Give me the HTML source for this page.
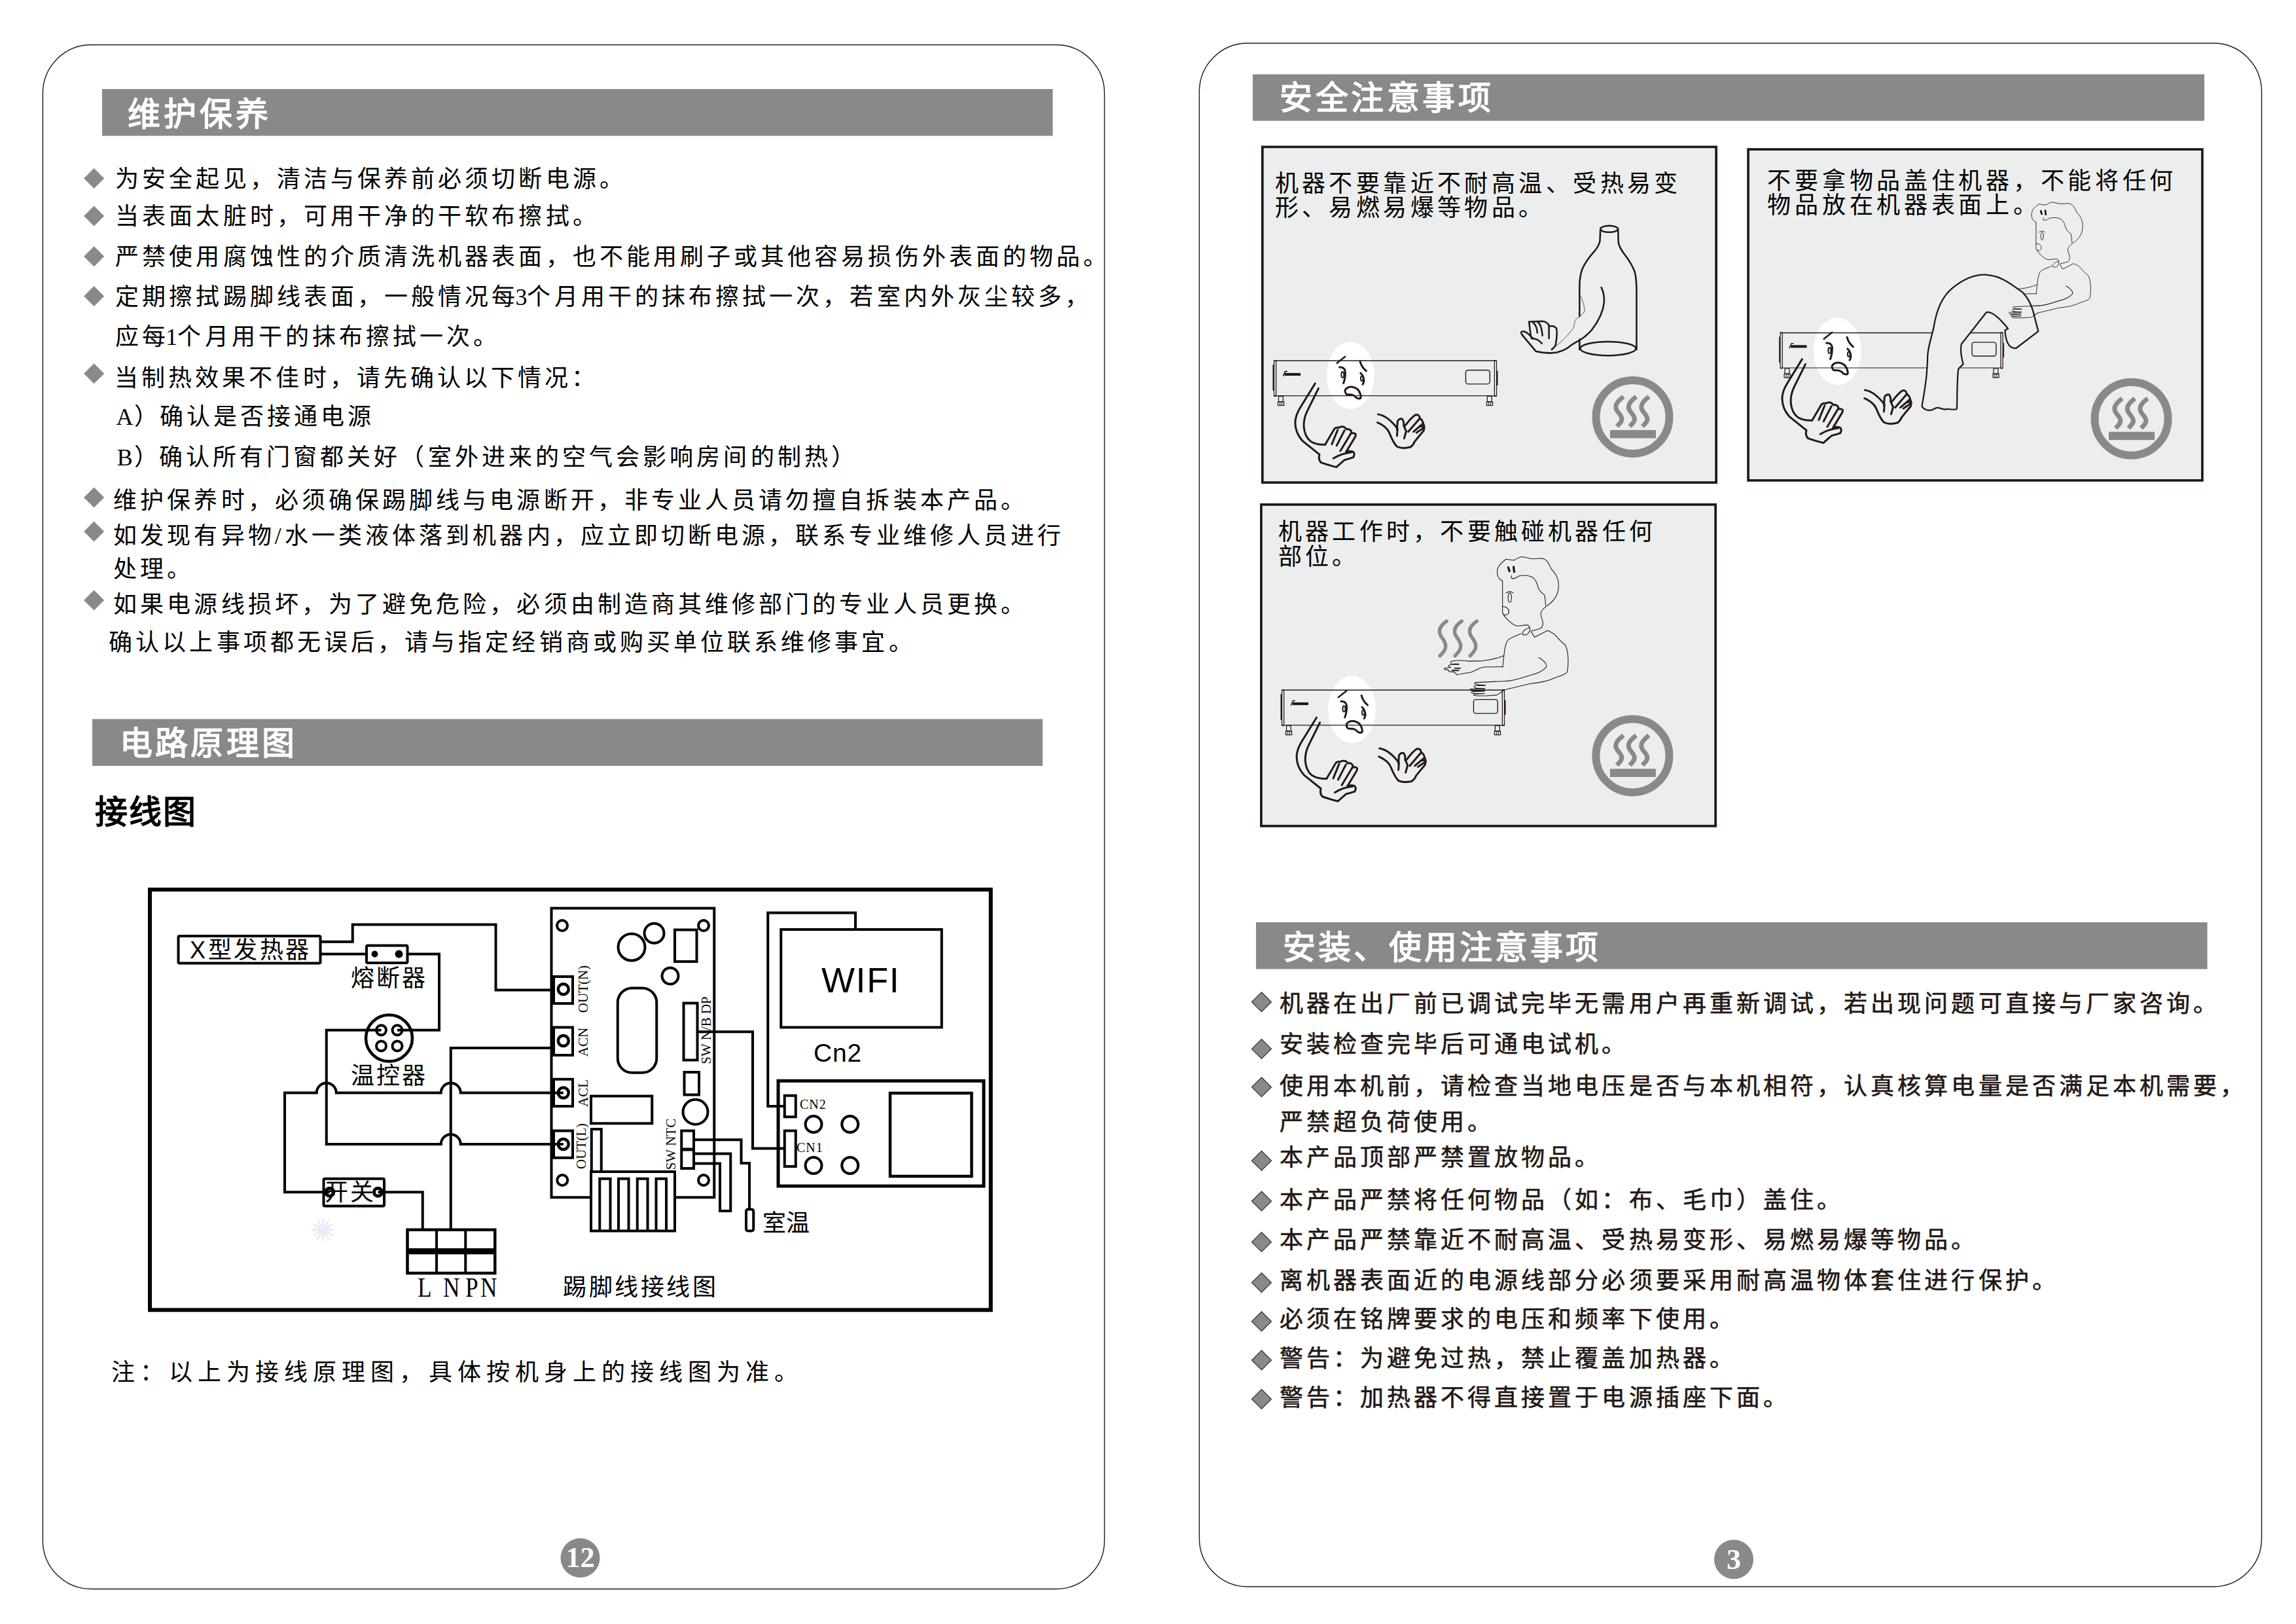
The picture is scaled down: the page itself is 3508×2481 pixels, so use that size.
<!DOCTYPE html>
<html lang="zh-CN"><head><meta charset="utf-8"><title>manual</title>
<style>
html,body{margin:0;padding:0;background:#fff;}
body{width:3508px;height:2481px;position:relative;overflow:hidden;}
.ser,.bd,.hd,.lat,.sans,.pn{position:absolute;white-space:nowrap;}
.ser{font-family:"Liberation Serif",serif;}
.bd{font-family:"Liberation Serif",serif;font-weight:normal;-webkit-text-stroke:0.6px #231815;}
.hd{font-family:"Liberation Sans",sans-serif;font-weight:bold;}
.lat{font-family:"Liberation Serif",serif;color:#000;}
.sans{font-family:"Liberation Sans",sans-serif;color:#000;}
.pn{font-family:"Liberation Serif",serif;font-weight:bold;color:#fff;text-align:center;}
</style></head><body>
<svg width="3508" height="2481" viewBox="0 0 3508 2481" style="position:absolute;left:0;top:0"><path d="M139.4,68.5 H1613.5 A74,74 0 0 1 1687.5,142.5 V2353.5 A74,74 0 0 1 1613.5,2427.5 H139.4 A74,74 0 0 1 65.4,2353.5 V142.5 A74,74 0 0 1 139.4,68.5 Z" fill="none" stroke="#231815" stroke-width="1.4"/><path d="M1906.4,66 H3381.5 A74,74 0 0 1 3455.5,140 V2350 A74,74 0 0 1 3381.5,2424 H1906.4 A74,74 0 0 1 1832.4,2350 V140 A74,74 0 0 1 1906.4,66 Z" fill="none" stroke="#231815" stroke-width="1.4"/><rect x="156" y="136" width="1452.5" height="71.5" fill="#898989"/><rect x="141" y="1098.5" width="1452" height="71.5" fill="#898989"/><rect x="1914" y="113.5" width="1454" height="71.1" fill="#898989"/><rect x="1919" y="1409" width="1453.5" height="71.5" fill="#898989"/><path d="M143.6,257.0 L159.1,272.5 L143.6,288.0 L128.1,272.5 Z" fill="#898989"/><path d="M143.6,314.5 L159.1,330 L143.6,345.5 L128.1,330 Z" fill="#898989"/><path d="M143.6,376.25 L159.1,391.75 L143.6,407.25 L128.1,391.75 Z" fill="#898989"/><path d="M143.6,437.0 L159.1,452.5 L143.6,468.0 L128.1,452.5 Z" fill="#898989"/><path d="M143.6,555.25 L159.1,570.75 L143.6,586.25 L128.1,570.75 Z" fill="#898989"/><path d="M143.6,744.5 L159.1,760 L143.6,775.5 L128.1,760 Z" fill="#898989"/><path d="M143.6,796.5 L159.1,812 L143.6,827.5 L128.1,812 Z" fill="#898989"/><path d="M143.6,901.5 L159.1,917 L143.6,932.5 L128.1,917 Z" fill="#898989"/><path d="M1927.5,1515.75 L1942.5,1530.75 L1927.5,1545.75 L1912.5,1530.75 Z" fill="#898989" stroke="#333" stroke-width="1.2"/><path d="M1927.5,1587.5 L1942.5,1602.5 L1927.5,1617.5 L1912.5,1602.5 Z" fill="#898989" stroke="#333" stroke-width="1.2"/><path d="M1927.5,1645.75 L1942.5,1660.75 L1927.5,1675.75 L1912.5,1660.75 Z" fill="#898989" stroke="#333" stroke-width="1.2"/><path d="M1927.5,1758.25 L1942.5,1773.25 L1927.5,1788.25 L1912.5,1773.25 Z" fill="#898989" stroke="#333" stroke-width="1.2"/><path d="M1927.5,1820.0 L1942.5,1835 L1927.5,1850.0 L1912.5,1835 Z" fill="#898989" stroke="#333" stroke-width="1.2"/><path d="M1927.5,1882.5 L1942.5,1897.5 L1927.5,1912.5 L1912.5,1897.5 Z" fill="#898989" stroke="#333" stroke-width="1.2"/><path d="M1927.5,1944.5 L1942.5,1959.5 L1927.5,1974.5 L1912.5,1959.5 Z" fill="#898989" stroke="#333" stroke-width="1.2"/><path d="M1927.5,2003.75 L1942.5,2018.75 L1927.5,2033.75 L1912.5,2018.75 Z" fill="#898989" stroke="#333" stroke-width="1.2"/><path d="M1927.5,2063.0 L1942.5,2078 L1927.5,2093.0 L1912.5,2078 Z" fill="#898989" stroke="#333" stroke-width="1.2"/><path d="M1927.5,2122.5 L1942.5,2137.5 L1927.5,2152.5 L1912.5,2137.5 Z" fill="#898989" stroke="#333" stroke-width="1.2"/><circle cx="886.5" cy="2380" r="30" fill="#898989"/><circle cx="2649" cy="2382.3" r="30" fill="#898989"/><g fill="none" stroke="#000" stroke-width="4" stroke-linejoin="miter"><rect x="229" y="1359" width="1284.75" height="642.25" stroke-width="6"/><rect x="272.5" y="1430" width="217" height="41.5" rx="2"/><polyline points="489.5,1438.75 538.75,1438.75 538.75,1412.5 757.5,1412.5 757.5,1512.5 846,1512.5"/><polyline points="489.5,1457.5 560,1457.5"/><rect x="560" y="1444.5" width="62.5" height="26.5" rx="2"/><circle cx="572.5" cy="1457.5" r="4" fill="#000" stroke-width="2"/><circle cx="609.5" cy="1457.5" r="5" fill="#000" stroke-width="2"/><polyline points="622.5,1457.5 671,1457.5 671,1573.75 607,1573.75"/><circle cx="594.5" cy="1586" r="35.5" stroke-width="4.5"/><circle cx="582.5" cy="1573.75" r="7.5"/><circle cx="607" cy="1573.75" r="7.5"/><circle cx="582.5" cy="1598" r="7.5"/><circle cx="607" cy="1598" r="7.5"/><path d="M582.5,1573.75 H498.75 V1748 H673.75 A15,15 0 0 1 703.75,1748 H860.75"/><path d="M860.75,1669.5 H703.75 A15,15 0 0 0 673.75,1669.5 H513.75 A15,15 0 0 0 483.75,1669.5 H435 V1821.25 H503.75"/><path d="M846,1601 H688.75 V1878.75"/><rect x="494.5" y="1800.75" width="92.5" height="41.75" rx="2"/><circle cx="503.75" cy="1821.25" r="6" stroke-width="5"/><circle cx="577.5" cy="1821.25" r="6" stroke-width="5"/><polyline points="577.5,1821.25 645.75,1821.25 645.75,1878.75"/><rect x="622.5" y="1878.75" width="133.75" height="66.25" stroke-width="4.5"/><line x1="667" y1="1878.75" x2="667" y2="1945"/><line x1="711.25" y1="1878.75" x2="711.25" y2="1945"/><rect x="622.5" y="1907" width="133.75" height="9.25" fill="#000" stroke="none"/><path d="M903,1829.25 H842.5 V1387.5 H1091.25 V1829.25 H1031.25"/><circle cx="859" cy="1414" r="8"/><circle cx="1075" cy="1414" r="8"/><circle cx="859.25" cy="1803" r="8"/><circle cx="1075" cy="1803" r="8"/><circle cx="965" cy="1447" r="20.5"/><circle cx="999.5" cy="1425.75" r="15"/><rect x="1031" y="1420.5" width="33.5" height="48.5"/><circle cx="1024" cy="1491" r="12.5"/><rect x="943.75" y="1509.5" width="59.5" height="129.25" rx="22"/><rect x="846" y="1492" width="29" height="41"/><circle cx="860.75" cy="1511.25" r="8" stroke-width="4.5"/><rect x="846" y="1569.5" width="29" height="42.5"/><circle cx="860.75" cy="1590" r="8" stroke-width="4.5"/><rect x="846" y="1648.75" width="29" height="41.25"/><circle cx="860.75" cy="1669.5" r="8" stroke-width="4.5"/><rect x="846" y="1727.5" width="29" height="41.25"/><circle cx="860.75" cy="1748" r="8" stroke-width="4.5"/><rect x="1044.5" y="1532.5" width="21" height="87"/><polyline points="1065.5,1576.25 1150,1576.25 1150,1754.5 1199,1754.5"/><rect x="1045.5" y="1638" width="22.5" height="34.5"/><circle cx="1062.5" cy="1698.75" r="19"/><rect x="903" y="1674.5" width="93.25" height="41.75"/><rect x="903.75" y="1725" width="15" height="65"/><rect x="903" y="1790" width="128" height="90.5"/><polyline points="916.25,1880.5 916.25,1800.75 932.5,1800.75 932.5,1880.5"/><polyline points="945,1880.5 945,1800.75 960.5,1800.75 960.5,1880.5"/><polyline points="973.75,1880.5 973.75,1800.75 989.5,1800.75 989.5,1880.5"/><polyline points="1002.5,1880.5 1002.5,1800.75 1018,1800.75 1018,1880.5"/><rect x="1041.25" y="1727.5" width="18.75" height="57.5"/><line x1="1041.25" y1="1756" x2="1060" y2="1756" stroke-width="5"/><polyline points="1060,1741.25 1132.5,1741.25 1132.5,1777 1145,1777 1145,1847.5"/><rect x="1140" y="1847.5" width="11.25" height="33" rx="3"/><polyline points="1060,1762.5 1116.25,1762.5 1116.25,1850 1100,1850 1100,1777.5 1060,1777.5"/><polyline points="1199,1690 1173.25,1690 1173.25,1394.5 1307,1394.5 1307,1420"/><rect x="1193.25" y="1420" width="245.5" height="149.5"/><rect x="1189" y="1651.25" width="314" height="160.75" stroke-width="5"/><rect x="1360" y="1670" width="124.5" height="127" stroke-width="4.5"/><rect x="1198.75" y="1673.75" width="17" height="32.5"/><rect x="1198.75" y="1727.5" width="17" height="54.5"/><circle cx="1243" cy="1717.5" r="12.5"/><circle cx="1298.75" cy="1717.5" r="12.5"/><circle cx="1243" cy="1780.5" r="12.5"/><circle cx="1298.75" cy="1780.5" r="12.5"/></g><g stroke="#ebebf7" stroke-width="3" stroke-linecap="round"><line x1="499.8" y1="1878.8" x2="509.8" y2="1878.8"/><line x1="498.9" y1="1881.8" x2="507.6" y2="1886.8"/><line x1="496.8" y1="1883.9" x2="501.8" y2="1892.6"/><line x1="493.8" y1="1884.8" x2="493.8" y2="1894.8"/><line x1="490.8" y1="1883.9" x2="485.8" y2="1892.6"/><line x1="488.6" y1="1881.8" x2="479.9" y2="1886.8"/><line x1="487.8" y1="1878.8" x2="477.8" y2="1878.8"/><line x1="488.6" y1="1875.8" x2="479.9" y2="1870.8"/><line x1="490.8" y1="1873.6" x2="485.8" y2="1864.9"/><line x1="493.8" y1="1872.8" x2="493.8" y2="1862.8"/><line x1="496.8" y1="1873.6" x2="501.8" y2="1864.9"/><line x1="498.9" y1="1875.8" x2="507.6" y2="1870.8"/><circle cx="493.75" cy="1878.75" r="9" fill="#ebebf7" stroke="none"/></g><rect x="1928.85" y="224.45" width="693.3" height="512.6999999999999" fill="#eceeed" stroke="#231815" stroke-width="3.7"/><rect x="2671.0499999999997" y="228.15" width="693.8" height="505.79999999999995" fill="#eceeed" stroke="#231815" stroke-width="3.7"/><rect x="1926.9499999999998" y="770.85" width="694.2" height="491.09999999999997" fill="#eceeed" stroke="#231815" stroke-width="3.7"/><g fill="none" stroke="#898989"><circle cx="2494.5" cy="637" r="56" stroke-width="12"/><rect x="2460.0" y="657" width="70" height="12.5" fill="#898989" stroke="none"/><path d="M2480.5,606 C2468.5,615 2465.5,622 2472.5,630 C2478.5,637 2479.5,641 2475.5,646 L2470.5,651.5" stroke-width="7"/><path d="M2500.0,606 C2488.0,615 2485.0,622 2492.0,630 C2498.0,637 2499.0,641 2495.0,646 L2490.0,651.5" stroke-width="7"/><path d="M2519.5,606 C2507.5,615 2504.5,622 2511.5,630 C2517.5,637 2518.5,641 2514.5,646 L2509.5,651.5" stroke-width="7"/></g><g fill="none" stroke="#898989"><circle cx="3256.5" cy="639.7" r="56" stroke-width="12"/><rect x="3222.0" y="659.7" width="70" height="12.5" fill="#898989" stroke="none"/><path d="M3242.5,608.7 C3230.5,617.7 3227.5,624.7 3234.5,632.7 C3240.5,639.7 3241.5,643.7 3237.5,648.7 L3232.5,654.2" stroke-width="7"/><path d="M3262.0,608.7 C3250.0,617.7 3247.0,624.7 3254.0,632.7 C3260.0,639.7 3261.0,643.7 3257.0,648.7 L3252.0,654.2" stroke-width="7"/><path d="M3281.5,608.7 C3269.5,617.7 3266.5,624.7 3273.5,632.7 C3279.5,639.7 3280.5,643.7 3276.5,648.7 L3271.5,654.2" stroke-width="7"/></g><g fill="none" stroke="#898989"><circle cx="2494.4" cy="1154.5" r="56" stroke-width="12"/><rect x="2459.9" y="1174.5" width="70" height="12.5" fill="#898989" stroke="none"/><path d="M2480.4,1123.5 C2468.4,1132.5 2465.4,1139.5 2472.4,1147.5 C2478.4,1154.5 2479.4,1158.5 2475.4,1163.5 L2470.4,1169.0" stroke-width="7"/><path d="M2499.9,1123.5 C2487.9,1132.5 2484.9,1139.5 2491.9,1147.5 C2497.9,1154.5 2498.9,1158.5 2494.9,1163.5 L2489.9,1169.0" stroke-width="7"/><path d="M2519.4,1123.5 C2507.4,1132.5 2504.4,1139.5 2511.4,1147.5 C2517.4,1154.5 2518.4,1158.5 2514.4,1163.5 L2509.4,1169.0" stroke-width="7"/></g><defs><g id="heater" fill="none" stroke="#231815" stroke-width="14" stroke-linecap="round" stroke-linejoin="round">
<path d="M45,198 H2205" stroke-width="10"/>
<path d="M45,540 H2205" stroke-width="7"/>
<rect x="42" y="195" width="20" height="350" stroke-width="8" rx="4"/>
<rect x="2190" y="195" width="20" height="350" stroke-width="8" rx="4"/>
<path d="M34,240 V485" stroke-width="10"/>
<path d="M2218,300 V435" stroke-width="10"/>
<rect x="86" y="545" width="44" height="52" stroke-width="8"/>
<rect x="80" y="598" width="58" height="36" stroke-width="8"/>
<path d="M100,600 V634 M118,600 V634" stroke-width="6"/>
<rect x="2120" y="545" width="44" height="52" stroke-width="8"/>
<rect x="2114" y="598" width="58" height="36" stroke-width="8"/>
<path d="M2134,600 V634 M2152,600 V634" stroke-width="6"/>
<rect x="1910" y="290" width="235" height="135" rx="22" stroke-width="9"/>
<path d="M132,345 L150,302 L168,302" stroke-width="10"/>
<rect x="145" y="318" width="155" height="26" fill="#231815" stroke="none"/>
</g><g id="face" fill="none" stroke="#231815" stroke-width="19" stroke-linecap="round" stroke-linejoin="round">
<path d="M655,222 L735,158" stroke-width="16"/>
<path d="M880,205 Q895,262 940,298"/>
<path d="M680,262 Q725,258 735,300 Q740,360 718,418"/>
<ellipse cx="710" cy="335" rx="13" ry="28" stroke-width="13"/>
<path d="M885,318 Q915,345 918,390 Q915,420 905,428"/>
<ellipse cx="898" cy="372" rx="12" ry="24" stroke-width="13"/>
<path d="M745,522 Q715,485 760,460 Q810,440 860,480 Q890,520 888,560 Q870,575 845,560 Q820,525 770,528 Q750,530 745,522 Z"/>
<path d="M442,420 L300,650 Q250,730 248,800 Q248,900 320,980 L485,1112 Q470,1160 500,1190 Q570,1215 650,1235 Q700,1190 730,1165 Q790,1150 815,1140 Q835,1100 810,1085 Q785,1075 745,1085"/>
<path d="M475,468 L365,690 Q330,760 332,840 Q340,940 400,985 Q460,1020 540,1015"/>
<path d="M540,1015 L630,862 Q650,842 672,852 Q700,832 732,848 L748,866 Q775,858 792,880 L800,905 Q830,900 838,915 Q840,930 828,948 L745,1085"/>
<path d="M605,1012 L662,872"/>
<path d="M652,1025 L728,878"/>
<path d="M688,1078 L795,900"/>
<path d="M620,1150 Q700,1100 795,1090"/>
<path d="M1055,720 Q1150,735 1245,860 L1240,930"/>
<path d="M1050,800 Q1140,840 1165,900 Q1205,1000 1240,1035 Q1290,1060 1370,1040 Q1400,1020 1410,990 Q1440,950 1500,880 L1505,850 Q1490,830 1460,840"/>
<path d="M1240,870 L1245,790 Q1260,760 1290,765 Q1310,790 1305,830 L1330,885 L1310,955"/>
<path d="M1320,830 Q1380,750 1420,725 Q1460,720 1462,760 L1350,890"/>
<path d="M1462,760 Q1490,775 1495,810 L1400,890"/>
<path d="M1495,810 Q1510,840 1505,850 L1430,900"/>
</g><g id="person" fill="none" stroke="#231815" stroke-width="8" stroke-linecap="round" stroke-linejoin="round">
<path d="M780,350 C740,335 718,300 720,240 C722,180 770,140 820,105 L910,118 C950,92 985,78 1010,80 L1110,102 L1230,96 C1300,120 1310,180 1330,215 C1400,290 1420,350 1410,440 C1400,540 1330,600 1270,640 C1225,675 1200,710 1215,750 C1235,800 1255,870 1200,890 L1105,915"/>
<path d="M880,290 V320 C900,330 930,320 965,295 C1000,292 1040,280 1080,295 C1130,305 1160,350 1172,390 C1180,440 1210,480 1255,510 L1268,625"/>
<path d="M780,350 V705 C800,760 880,840 940,858 C990,860 1030,842 1068,850 L1088,878"/>
<path d="M780,638 C830,640 858,670 852,705 C845,740 805,742 785,722"/>
<ellipse cx="862" cy="540" rx="19" ry="52"/>
<path d="M822,485 Q860,458 900,485"/>
<path d="M845,198 L858,240 M905,192 L912,248" stroke-width="24"/>
<path d="M1088,878 C1050,885 1010,910 1005,940 C1010,972 1050,962 1072,940 C1092,912 1092,890 1088,878"/>
<path d="M1102,920 L1142,985 L1288,910 C1330,928 1370,945 1400,990 C1440,1040 1470,1052 1492,1080 C1522,1150 1530,1280 1508,1380 C1480,1410 1440,1420 1380,1440 C1300,1480 1200,1500 1090,1510 L800,1580"/>
<path d="M990,945 C920,975 860,990 832,1030 C800,1100 800,1180 795,1200 L782,1325"/>
<path d="M795,1195 C700,1232 650,1242 560,1252 L400,1256 C320,1244 270,1240 205,1258 C180,1275 205,1292 232,1290 L180,1300 C160,1310 175,1325 200,1325 L125,1335 C115,1350 140,1355 165,1350 L170,1365 C180,1380 210,1378 230,1375 L270,1410 C300,1400 360,1390 420,1382 C470,1370 500,1335 570,1322 L782,1318"/>
<path d="M230,1290 H285 M240,1335 H305 M210,1360 H285" stroke-width="14"/>
<path d="M1188,1215 C1240,1242 1290,1292 1272,1322 C1232,1372 1150,1400 1100,1412 C1000,1442 900,1482 790,1482 L482,1496 C440,1500 470,1525 585,1528 L470,1530 C440,1545 460,1565 580,1567 L420,1570 C395,1585 430,1598 575,1593 L440,1600 C410,1615 440,1625 580,1620 L460,1628 C440,1640 460,1650 600,1646 L714,1638 L766,1606 L800,1580"/>
<path d="M500,1528 H585 M470,1567 H580 M460,1593 H575" stroke-width="12"/>
</g><ellipse id="face_bg" cx="787" cy="342" rx="232" ry="327" fill="#fff"/></defs><use href="#face_bg" transform="translate(1940,520) scale(0.15679)"/><use href="#heater" transform="translate(1940,520) scale(0.15679)"/><use href="#face" transform="translate(1940,520) scale(0.15679)"/><g transform="translate(2300,330) scale(0.14166)" fill="none" stroke="#231815" stroke-width="18" stroke-linecap="round" stroke-linejoin="round">
<ellipse cx="1120" cy="140" rx="95" ry="35"/>
<path d="M1025,140 L1020,270 Q1005,330 960,380 Q870,480 830,570 Q800,650 800,760 L800,1080"/>
<path d="M800,1330 L800,1440"/>
<path d="M1215,140 L1220,290 Q1235,350 1290,420 Q1360,510 1395,600 Q1415,680 1415,800 L1415,1440"/>
<ellipse cx="1108" cy="1430" rx="300" ry="75"/>
<path d="M1035,770 Q1070,840 1065,930 Q1050,1080 930,1230 Q870,1300 800,1340 Q740,1370 700,1400 Q660,1440 560,1470 Q470,1490 330,1460 L180,1280 Q160,1250 180,1245 Q220,1235 275,1300 L300,1320"/>
<path d="M275,1300 L255,1140 L400,1135 Q450,1140 470,1180 L470,1320"/>
<path d="M300,1150 Q340,1180 345,1260 M350,1145 Q390,1170 400,1290"/>
<path d="M470,1190 Q520,1175 550,1210 Q565,1260 540,1400 L500,1440"/>
<path d="M280,1320 Q350,1320 395,1375"/>
<path d="M815,870 Q855,960 855,1030 Q820,1080 770,1105 Q740,1130 740,1200 Q700,1250 660,1300 Q600,1360 555,1395" stroke-width="5"/>
</g><use href="#face_bg" transform="translate(2684,483) scale(0.15679)"/><use href="#heater" transform="translate(2713.5,477.4) scale(0.15679)"/><use href="#face" transform="translate(2684,483) scale(0.15679)"/><use href="#person" transform="translate(1198.5,-399.8) scale(0.833) translate(2190,840) scale(0.13545)"/><path transform="translate(2660,220) scale(0.32331)" fill="#ecedec" stroke="#231815" stroke-width="7" stroke-linejoin="round" d="M855,1240 C870,1150 880,1100 882,1000 C885,950 905,900 912,860 C925,780 950,720 1000,680 C1050,640 1100,615 1160,618 C1230,622 1280,665 1330,700 C1365,735 1380,780 1388,820 L1405,885 L1300,965 C1265,968 1250,930 1248,880 L1262,872 C1230,832 1190,790 1160,795 L1042,945 C1032,985 1050,1035 1050,1040 L1028,1062 C1020,1100 1022,1235 1020,1252 C1000,1262 980,1245 962,1255 C942,1250 930,1240 912,1252 C898,1262 870,1262 855,1240 Z"/><g transform="translate(1198.5,-399.8) scale(0.833) translate(2190,840) scale(0.13545)" fill="none" stroke="#231815" stroke-width="8" stroke-linecap="round" stroke-linejoin="round">
<path d="M1188,1215 C1240,1242 1290,1292 1272,1322 C1232,1372 1150,1400 1100,1412 C1000,1442 900,1482 790,1482 L482,1496 C440,1500 470,1525 585,1528 L470,1530 C440,1545 460,1565 580,1567 L420,1570 C395,1585 430,1598 575,1593 L440,1600 C410,1615 440,1625 580,1620 L460,1628 C440,1640 460,1650 600,1646 L714,1638 L766,1606 L800,1580"/>
<path d="M500,1528 H585 M470,1567 H580 M460,1593 H575" stroke-width="12"/>
</g><use href="#face_bg" transform="translate(1942.2,1030.4) scale(0.15679)"/><use href="#heater" transform="translate(1952,1023.2) scale(0.15679)"/><use href="#face" transform="translate(1942.2,1030.4) scale(0.15679)"/><use href="#person" transform="translate(2190,840) scale(0.13545)"/><g transform="translate(2190,840) scale(0.13545)" fill="none" stroke="#898989" stroke-width="40" stroke-linecap="round">
<path d="M150,805 C70,860 50,920 90,980 C150,1060 165,1110 75,1195"/>
<path d="M320,805 C240,860 220,920 260,980 C320,1060 335,1110 245,1195"/>
<path d="M490,805 C410,860 390,920 430,980 C490,1060 505,1110 415,1195"/>
</g></svg>
<div class="hd" style="left:195px;top:149.50px;font-size:50px;line-height:50px;letter-spacing:4.9px;color:#fff;">维护保养</div><div class="hd" style="left:182.5px;top:1111.00px;font-size:50px;line-height:50px;letter-spacing:4.4px;color:#fff;">电路原理图</div><div class="hd" style="left:1955px;top:125.25px;font-size:50px;line-height:50px;letter-spacing:4.5px;color:#fff;">安全注意事项</div><div class="hd" style="left:1960px;top:1423.00px;font-size:50px;line-height:50px;letter-spacing:4.0px;color:#fff;">安装、使用注意事项</div><div class="hd" style="left:145px;top:1216.00px;font-size:50px;line-height:50px;letter-spacing:2px;color:#000;">接线图</div><div class="ser" style="left:176.25px;top:255.58px;font-size:36px;line-height:36px;letter-spacing:5.08px;color:#000;">为安全起见，清洁与保养前必须切断电源。</div><div class="ser" style="left:176.25px;top:313.08px;font-size:36px;line-height:36px;letter-spacing:5.08px;color:#000;">当表面太脏时，可用干净的干软布擦拭。</div><div class="ser" style="left:176.25px;top:375.08px;font-size:36px;line-height:36px;letter-spacing:5.08px;color:#000;">严禁使用腐蚀性的介质清洗机器表面，也不能用刷子或其他容易损伤外表面的物品。</div><div class="ser" style="left:176.25px;top:436.08px;font-size:36px;line-height:36px;letter-spacing:5.08px;color:#000;">定期擦拭踢脚线表面，一般情况<span style="letter-spacing:0">每</span><span style="letter-spacing:0.08px">3</span>个月用干的抹布擦拭一次，若室内外灰尘较多，</div><div class="ser" style="left:176.25px;top:496.68px;font-size:36px;line-height:36px;letter-spacing:5.08px;color:#000;">应<span style="letter-spacing:0">每</span><span style="letter-spacing:0.08px">1</span>个月用干的抹布擦拭一次。</div><div class="ser" style="left:175px;top:560.08px;font-size:36px;line-height:36px;letter-spacing:5.08px;color:#000;">当制热效果不佳时，请先确认以下情况：</div><div class="ser" style="left:177.5px;top:618.68px;font-size:36px;line-height:36px;letter-spacing:5.08px;color:#000;"><span style="letter-spacing:2px">A）</span>确认是否接通电源</div><div class="ser" style="left:178.75px;top:681.08px;font-size:36px;line-height:36px;letter-spacing:5.08px;color:#000;"><span style="letter-spacing:2px">B）</span>确认所有门窗都关好（室外进来的空气会影响房间的制热）</div><div class="ser" style="left:173.25px;top:747.48px;font-size:36px;line-height:36px;letter-spacing:5.08px;color:#000;">维护保养时，必须确保踢脚线与电源断开，非专业人员请勿擅自拆装本产品。</div><div class="ser" style="left:173.25px;top:800.58px;font-size:36px;line-height:36px;letter-spacing:5.08px;color:#000;">如发现有异物/水一类液体落到机器内，应立即切断电源，联系专业维修人员进行</div><div class="ser" style="left:172.5px;top:852.48px;font-size:36px;line-height:36px;letter-spacing:5.08px;color:#000;">处理。</div><div class="ser" style="left:173.25px;top:906.08px;font-size:36px;line-height:36px;letter-spacing:5.08px;color:#000;">如果电源线损坏，为了避免危险，必须由制造商其维修部门的专业人员更换。</div><div class="ser" style="left:166.25px;top:964.08px;font-size:36px;line-height:36px;letter-spacing:5.08px;color:#000;">确认以上事项都无误后，请与指定经销商或购买单位联系维修事宜。</div><div class="ser" style="left:170px;top:2078.83px;font-size:36px;line-height:36px;letter-spacing:8.05px;color:#000;">注：以上为接线原理图，具体按机身上的接线图为准。</div><div class="bd" style="left:1954.5px;top:1515.58px;font-size:36px;line-height:36px;letter-spacing:5.08px;color:#231815;">机器在出厂前已调试完毕无需用户再重新调试，若出现问题可直接与厂家咨询。</div><div class="bd" style="left:1954.5px;top:1578.08px;font-size:36px;line-height:36px;letter-spacing:5.08px;color:#231815;">安装检查完毕后可通电试机。</div><div class="bd" style="left:1954.5px;top:1641.83px;font-size:36px;line-height:36px;letter-spacing:5.08px;color:#231815;">使用本机前，请检查当地电压是否与本机相符，认真核算电量是否满足本机需要，</div><div class="bd" style="left:1954.5px;top:1696.83px;font-size:36px;line-height:36px;letter-spacing:5.08px;color:#231815;">严禁超负荷使用。</div><div class="bd" style="left:1954.5px;top:1751.08px;font-size:36px;line-height:36px;letter-spacing:5.08px;color:#231815;">本产品顶部严禁置放物品。</div><div class="bd" style="left:1954.5px;top:1815.58px;font-size:36px;line-height:36px;letter-spacing:5.08px;color:#231815;">本产品严禁将任何物品（如：布、毛巾）盖住。</div><div class="bd" style="left:1954.5px;top:1877.08px;font-size:36px;line-height:36px;letter-spacing:5.08px;color:#231815;">本产品严禁靠近不耐高温、受热易变形、易燃易爆等物品。</div><div class="bd" style="left:1954.5px;top:1939.08px;font-size:36px;line-height:36px;letter-spacing:5.08px;color:#231815;">离机器表面近的电源线部分必须要采用耐高温物体套住进行保护。</div><div class="bd" style="left:1954.5px;top:1998.08px;font-size:36px;line-height:36px;letter-spacing:5.08px;color:#231815;">必须在铭牌要求的电压和频率下使用。</div><div class="bd" style="left:1954.5px;top:2058.08px;font-size:36px;line-height:36px;letter-spacing:5.08px;color:#231815;">警告：为避免过热，禁止覆盖加热器。</div><div class="bd" style="left:1954.5px;top:2118.08px;font-size:36px;line-height:36px;letter-spacing:5.08px;color:#231815;">警告：加热器不得直接置于电源插座下面。</div><div class="ser" style="left:1947.5px;top:263.08px;font-size:36px;line-height:36px;letter-spacing:5.42px;color:#000;">机器不要靠近不耐高温、受热易变</div><div class="ser" style="left:1947.5px;top:300.08px;font-size:36px;line-height:36px;letter-spacing:5.42px;color:#000;">形、易燃易爆等物品。</div><div class="ser" style="left:2700.4px;top:258.58px;font-size:36px;line-height:36px;letter-spacing:5.72px;color:#000;">不要拿物品盖住机器，不能将任何</div><div class="ser" style="left:2700.4px;top:295.58px;font-size:36px;line-height:36px;letter-spacing:5.72px;color:#000;">物品放在机器表面上。</div><div class="ser" style="left:1953px;top:794.58px;font-size:36px;line-height:36px;letter-spacing:5.22px;color:#000;">机器工作时，不要触碰机器任何</div><div class="ser" style="left:1953px;top:832.58px;font-size:36px;line-height:36px;letter-spacing:5.22px;color:#000;">部位。</div><div class="ser" style="left:290px;top:1433.83px;font-size:36px;line-height:36px;letter-spacing:3.5px;color:#000;"><span style="font-family:'Liberation Sans',sans-serif">X</span>型发热器</div><div class="ser" style="left:536px;top:1477.33px;font-size:36px;line-height:36px;letter-spacing:3px;color:#000;">熔断器</div><div class="ser" style="left:536px;top:1625.58px;font-size:36px;line-height:36px;letter-spacing:3px;color:#000;">温控器</div><div class="ser" style="left:496px;top:1804.33px;font-size:36px;line-height:36px;letter-spacing:3px;color:#000;">开关</div><div class="ser" style="left:1165px;top:1850.58px;font-size:36px;line-height:36px;letter-spacing:0px;color:#000;">室温</div><div class="ser" style="left:860px;top:1949.33px;font-size:36px;line-height:36px;letter-spacing:3.6px;color:#000;">踢脚线接线图</div><div class="lat" style="left:638px;top:1946px;font-size:42px;line-height:42px;transform:scaleX(0.84);transform-origin:0 0">L</div><div class="lat" style="left:676.5px;top:1946px;font-size:42px;line-height:42px;transform:scaleX(0.84);transform-origin:0 0">N</div><div class="lat" style="left:710.5px;top:1946px;font-size:42px;line-height:42px;transform:scaleX(0.84);transform-origin:0 0">P</div><div class="lat" style="left:734px;top:1946px;font-size:42px;line-height:42px;transform:scaleX(0.84);transform-origin:0 0">N</div><div class="sans" style="left:1255px;top:1470px;font-size:54px;line-height:54px;letter-spacing:1.6px">WIFI</div><div class="sans" style="left:1243px;top:1589px;font-size:39px;line-height:39px;letter-spacing:0.8px">Cn2</div><div class="lat" style="left:1222px;top:1677px;font-size:20px;line-height:20px;letter-spacing:1px">CN2</div><div class="lat" style="left:1217px;top:1743px;font-size:20px;line-height:20px;letter-spacing:1px">CN1</div><div class="lat" style="left:891px;top:1510.5px;font-size:21px;line-height:21px;transform:translate(-50%,-50%) rotate(-90deg);">OUT(N)</div><div class="lat" style="left:891px;top:1591.75px;font-size:21px;line-height:21px;transform:translate(-50%,-50%) rotate(-90deg);">ACN</div><div class="lat" style="left:891px;top:1670px;font-size:21px;line-height:21px;transform:translate(-50%,-50%) rotate(-90deg);">ACL</div><div class="lat" style="left:887.5px;top:1751px;font-size:21px;line-height:21px;transform:translate(-50%,-50%) rotate(-90deg);">OUT(L)</div><div class="lat" style="left:1078.75px;top:1573.75px;font-size:21px;line-height:21px;transform:translate(-50%,-50%) rotate(-90deg);">SW N/B DP</div><div class="lat" style="left:1025px;top:1748px;font-size:21px;line-height:21px;transform:translate(-50%,-50%) rotate(-90deg);">SW NTC</div><div class="pn" style="left:836.5px;top:2358px;width:100px;font-size:44px;line-height:44px;">12</div><div class="pn" style="left:2599px;top:2361px;width:100px;font-size:44px;line-height:44px;">3</div>
</body></html>
